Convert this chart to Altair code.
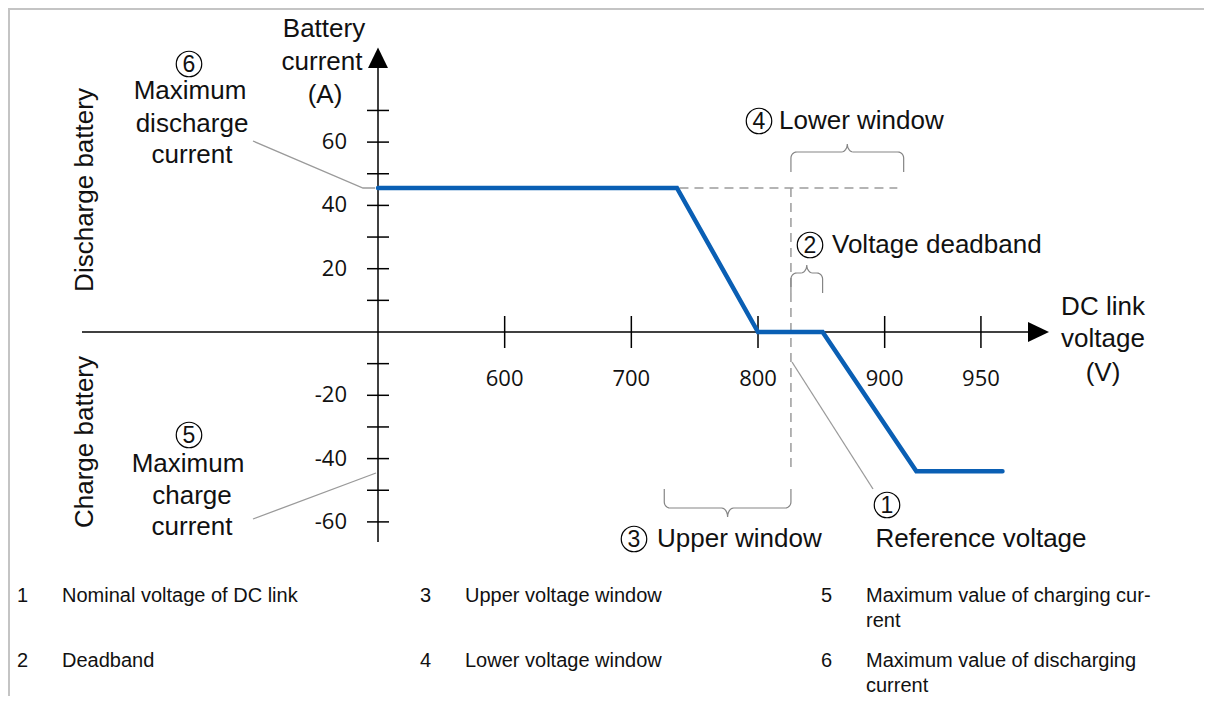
import altair as alt
import numpy as np
import pandas as pd

# ---------------- values ----------------
curve_voltage = [500, 736, 800, 851, 925, 993]
curve_current = [45.5, 45.5, 0, 0, -44, -44]

# schematic voltage axis: the "950" tick sits further right than a linear scale would put it
x_tick_positions = [600, 700, 800, 900, 976]
x_tick_labels = ["600", "700", "800", "900", "950"]
y_tick_values = [-60, -50, -40, -30, -20, -10, 10, 20, 30, 40, 50, 60, 70]
y_label_values = [-60, -40, -20, 20, 40, 60]

reference_voltage = 826
deadband_end = 851
upper_window_start = 726
lower_window_end = 915
dashed_start, dashed_end = 738, 910
max_discharge_current = 45.5
max_charge_current = -44

legend_numbers = ["1", "2", "3", "4", "5", "6"]
legend_lines = [
    ["Nominal voltage of DC link"],
    ["Deadband"],
    ["Upper voltage window"],
    ["Lower voltage window"],
    ["Maximum value of charging cur-", "rent"],
    ["Maximum value of discharging", "current"],
]

# ---------------- layout ----------------
W, H, M = 1196, 688, 8
PX_PER_V = 380 / 300
PX_PER_A = 3.165
ORIGIN = (378, 332)  # page position of (500 V, 0 A)
V_AXIS = 500


def dv(px):
    return V_AXIS + (px - ORIGIN[0]) / PX_PER_V


def da(py):
    return (ORIGIN[1] - py) / PX_PER_A


def pv(v):
    return ORIGIN[0] + (v - V_AXIS) * PX_PER_V


def pa(a):
    return ORIGIN[1] - a * PX_PER_A


XDOM = [dv(M), dv(M + W)]
YDOM = [da(M + H), da(M)]
XS = alt.Scale(domain=XDOM, nice=False, zero=False)
YS = alt.Scale(domain=YDOM, nice=False, zero=False)


def X(f="x"):
    return alt.X(f"{f}:Q", scale=XS, axis=None)


def Y(f="y"):
    return alt.Y(f"{f}:Q", scale=YS, axis=None)


def rules(rows, **kw):
    df = pd.DataFrame(rows, columns=["x", "x2", "y", "y2"])
    return alt.Chart(df).mark_rule(**kw).encode(x=X(), x2="x2:Q", y=Y(), y2="y2:Q")


FONT = "Liberation Sans"
TXT = "#111111"

# frame (top and left edge)
frame = rules([[dv(M), dv(M + W), da(M + 1), da(M + 1)],
               [dv(M + 1), dv(M + 1), da(M), da(M + H)]], color="#c4c4c4", strokeWidth=2)

# axes
axes = rules([[dv(82), dv(1030), 0, 0],
              [V_AXIS, V_AXIS, da(542), da(66)]], color="black", strokeWidth=1.5)

# ticks
th = 16 / PX_PER_A
xt = rules([[v, v, th, -th] for v in x_tick_positions], color="black", strokeWidth=1.5)
tw = 11 / PX_PER_V
yt = rules([[V_AXIS - tw, V_AXIS + tw, a, a] for a in y_tick_values], color="black", strokeWidth=1.5)

xlab = alt.Chart(pd.DataFrame({"x": x_tick_positions, "y": [da(379)] * 5, "t": x_tick_labels})).mark_text(
    font="Open Sans", fontSize=22, align="center", baseline="middle", color=TXT
).encode(x=X(), y=Y(), text="t:N")
ylab = alt.Chart(pd.DataFrame({"x": [dv(347)] * len(y_label_values), "y": y_label_values,
                               "t": [str(v) for v in y_label_values]})).mark_text(
    font="Open Sans", fontSize=22, align="right", baseline="middle", color=TXT
).encode(x=X(), y=Y(), text="t:N")

# arrow heads
arr_x = alt.Chart(pd.DataFrame({"x": [dv(1038.5)], "y": [0]})).mark_point(
    shape="M1,0L-1,-0.95L-1,0.95Z", size=441, filled=True, color="black", opacity=1, strokeWidth=0
).encode(x=X(), y=Y())
arr_y = alt.Chart(pd.DataFrame({"x": [V_AXIS], "y": [da(58)]})).mark_point(
    shape="M0,-1L0.95,0.95L-0.95,0.95Z", size=441, filled=True, color="black", opacity=1, strokeWidth=0
).encode(x=X(), y=Y())

# dashed guides
dashed = rules([[dashed_start, dashed_end, max_discharge_current, max_discharge_current],
                [reference_voltage, reference_voltage, max_discharge_current, max_charge_current]],
               color="#9c9c9c", strokeWidth=1.5, strokeDash=[9, 6])

# characteristic curve
curve = alt.Chart(pd.DataFrame({"x": curve_voltage, "y": curve_current, "o": range(6)})).mark_line(
    color="#0a5fb4", strokeWidth=4.5, strokeCap="round", strokeJoin="miter"
).encode(x=X(), y=Y(), order="o:Q")


# braces
def brace_points(v0, v1, y_end, y_mid, y_tip):
    x0, x1 = pv(v0), pv(v1)
    xc = (x0 + x1) / 2
    r = min(6.0, (x1 - x0) / 5)
    s = 1 if y_end > y_mid else -1
    t = np.linspace(0, np.pi / 2, 7)
    left = [(x0, y_end)]
    left += [(x0 + r - r * np.cos(a), y_mid + s * r - s * r * np.sin(a)) for a in t]
    left += [(xc - r + r * np.sin(a), y_tip + (y_mid - y_tip) * np.cos(a)) for a in t]
    right = [(x0 + x1 - px, py) for px, py in reversed(left[:-1])]
    return left + right


brace_specs = [
    ("lower", reference_voltage, lower_window_end, 172, 152, 144),
    ("dead", reference_voltage, deadband_end, 293, 273, 265),
    ("upper", upper_window_start, reference_voltage, 489, 508, 517),
]
rows = []
for name, v0, v1, ye, ym, yt_ in brace_specs:
    for i, (px, py) in enumerate(brace_points(v0, v1, ye, ym, yt_)):
        rows.append({"b": name, "o": i, "x": dv(px), "y": da(py)})
braces = alt.Chart(pd.DataFrame(rows)).mark_line(color="#858585", strokeWidth=1.2).encode(
    x=X(), y=Y(), detail="b:N", order="o:Q")

# leader lines
leader_paths = {
    "6": [(253, 141), (363, 188), (375, 188)],
    "5": [(253, 519), (376, 473)],
    "1": [(792, 362), (873, 489)],
}
rows = []
for k, pts in leader_paths.items():
    for i, (px, py) in enumerate(pts):
        rows.append({"b": k, "o": i, "x": dv(px), "y": da(py)})
leaders = alt.Chart(pd.DataFrame(rows)).mark_line(color="#9a9a9a", strokeWidth=1.3).encode(
    x=X(), y=Y(), detail="b:N", order="o:Q")

# circled numbers
circ_pos = {"6": (189, 64), "5": (189, 435), "4": (759, 121), "2": (810, 245), "3": (634, 539), "1": (887, 505)}
cdf = pd.DataFrame([{"t": k, "x": dv(p[0]), "y": da(p[1])} for k, p in circ_pos.items()])
circles = alt.Chart(cdf).mark_point(shape="circle", size=650, filled=False, color="black",
                                    strokeWidth=1.2, opacity=1).encode(x=X(), y=Y())
cnums = alt.Chart(cdf).mark_text(font=FONT, fontSize=23, align="center", baseline="middle", color=TXT,
                                 dy=1).encode(x=X(), y=Y(), text="t:N")

# annotation texts
center_txt = [
    ("Battery", 324, 29), ("current", 322, 62), ("(A)", 325, 95),
    ("Maximum", 190, 91), ("discharge", 192, 124), ("current", 192, 155),
    ("Maximum", 188, 464), ("charge", 192, 496), ("current", 192, 527),
    ("Reference voltage", 981, 539),
    ("DC link", 1103, 307), ("voltage", 1103, 339), ("(V)", 1103, 373),
]
left_txt = [
    ("Lower window", 779, 121), ("Voltage deadband", 832, 245), ("Upper window", 657, 539),
]
rot_txt = [("Discharge battery", 85, 190), ("Charge battery", 85, 442)]


def tdf(items):
    return pd.DataFrame([{"t": t, "x": dv(x), "y": da(y)} for t, x, y in items])


tc = alt.Chart(tdf(center_txt)).mark_text(font=FONT, fontSize=26, align="center", baseline="middle",
                                          color=TXT).encode(x=X(), y=Y(), text="t:N")
tl = alt.Chart(tdf(left_txt)).mark_text(font=FONT, fontSize=26, align="left", baseline="middle",
                                        color=TXT).encode(x=X(), y=Y(), text="t:N")
tr = alt.Chart(tdf(rot_txt)).mark_text(font=FONT, fontSize=26, align="center", baseline="middle",
                                       angle=270, color=TXT).encode(x=X(), y=Y(), text="t:N")

# bottom legend table
col_num_x = [17, 420, 821]
col_txt_x = [62, 465, 866]
row_y = [596, 661]
line_gap = 25
nrows, trows = [], []
for i, (n, lines) in enumerate(zip(legend_numbers, legend_lines)):
    c, r = i // 2, i % 2
    nrows.append({"t": n, "x": dv(col_num_x[c]), "y": da(row_y[r])})
    for j, ln in enumerate(lines):
        trows.append({"t": ln, "x": dv(col_txt_x[c]), "y": da(row_y[r] + j * line_gap)})
leg_n = alt.Chart(pd.DataFrame(nrows)).mark_text(font=FONT, fontSize=20, align="left", baseline="middle",
                                                 color=TXT).encode(x=X(), y=Y(), text="t:N")
leg_t = alt.Chart(pd.DataFrame(trows)).mark_text(font=FONT, fontSize=20, align="left", baseline="middle",
                                                 color=TXT).encode(x=X(), y=Y(), text="t:N")

chart = alt.layer(
    frame, dashed, braces, leaders, axes, xt, yt, arr_x, arr_y, curve, xlab, ylab,
    circles, cnums, tc, tl, tr, leg_n, leg_t
).properties(width=W, height=H, padding=0, autosize="none").configure_view(stroke=None)

chart.save("out.html", embed_options={"renderer": "svg", "actions": False})
